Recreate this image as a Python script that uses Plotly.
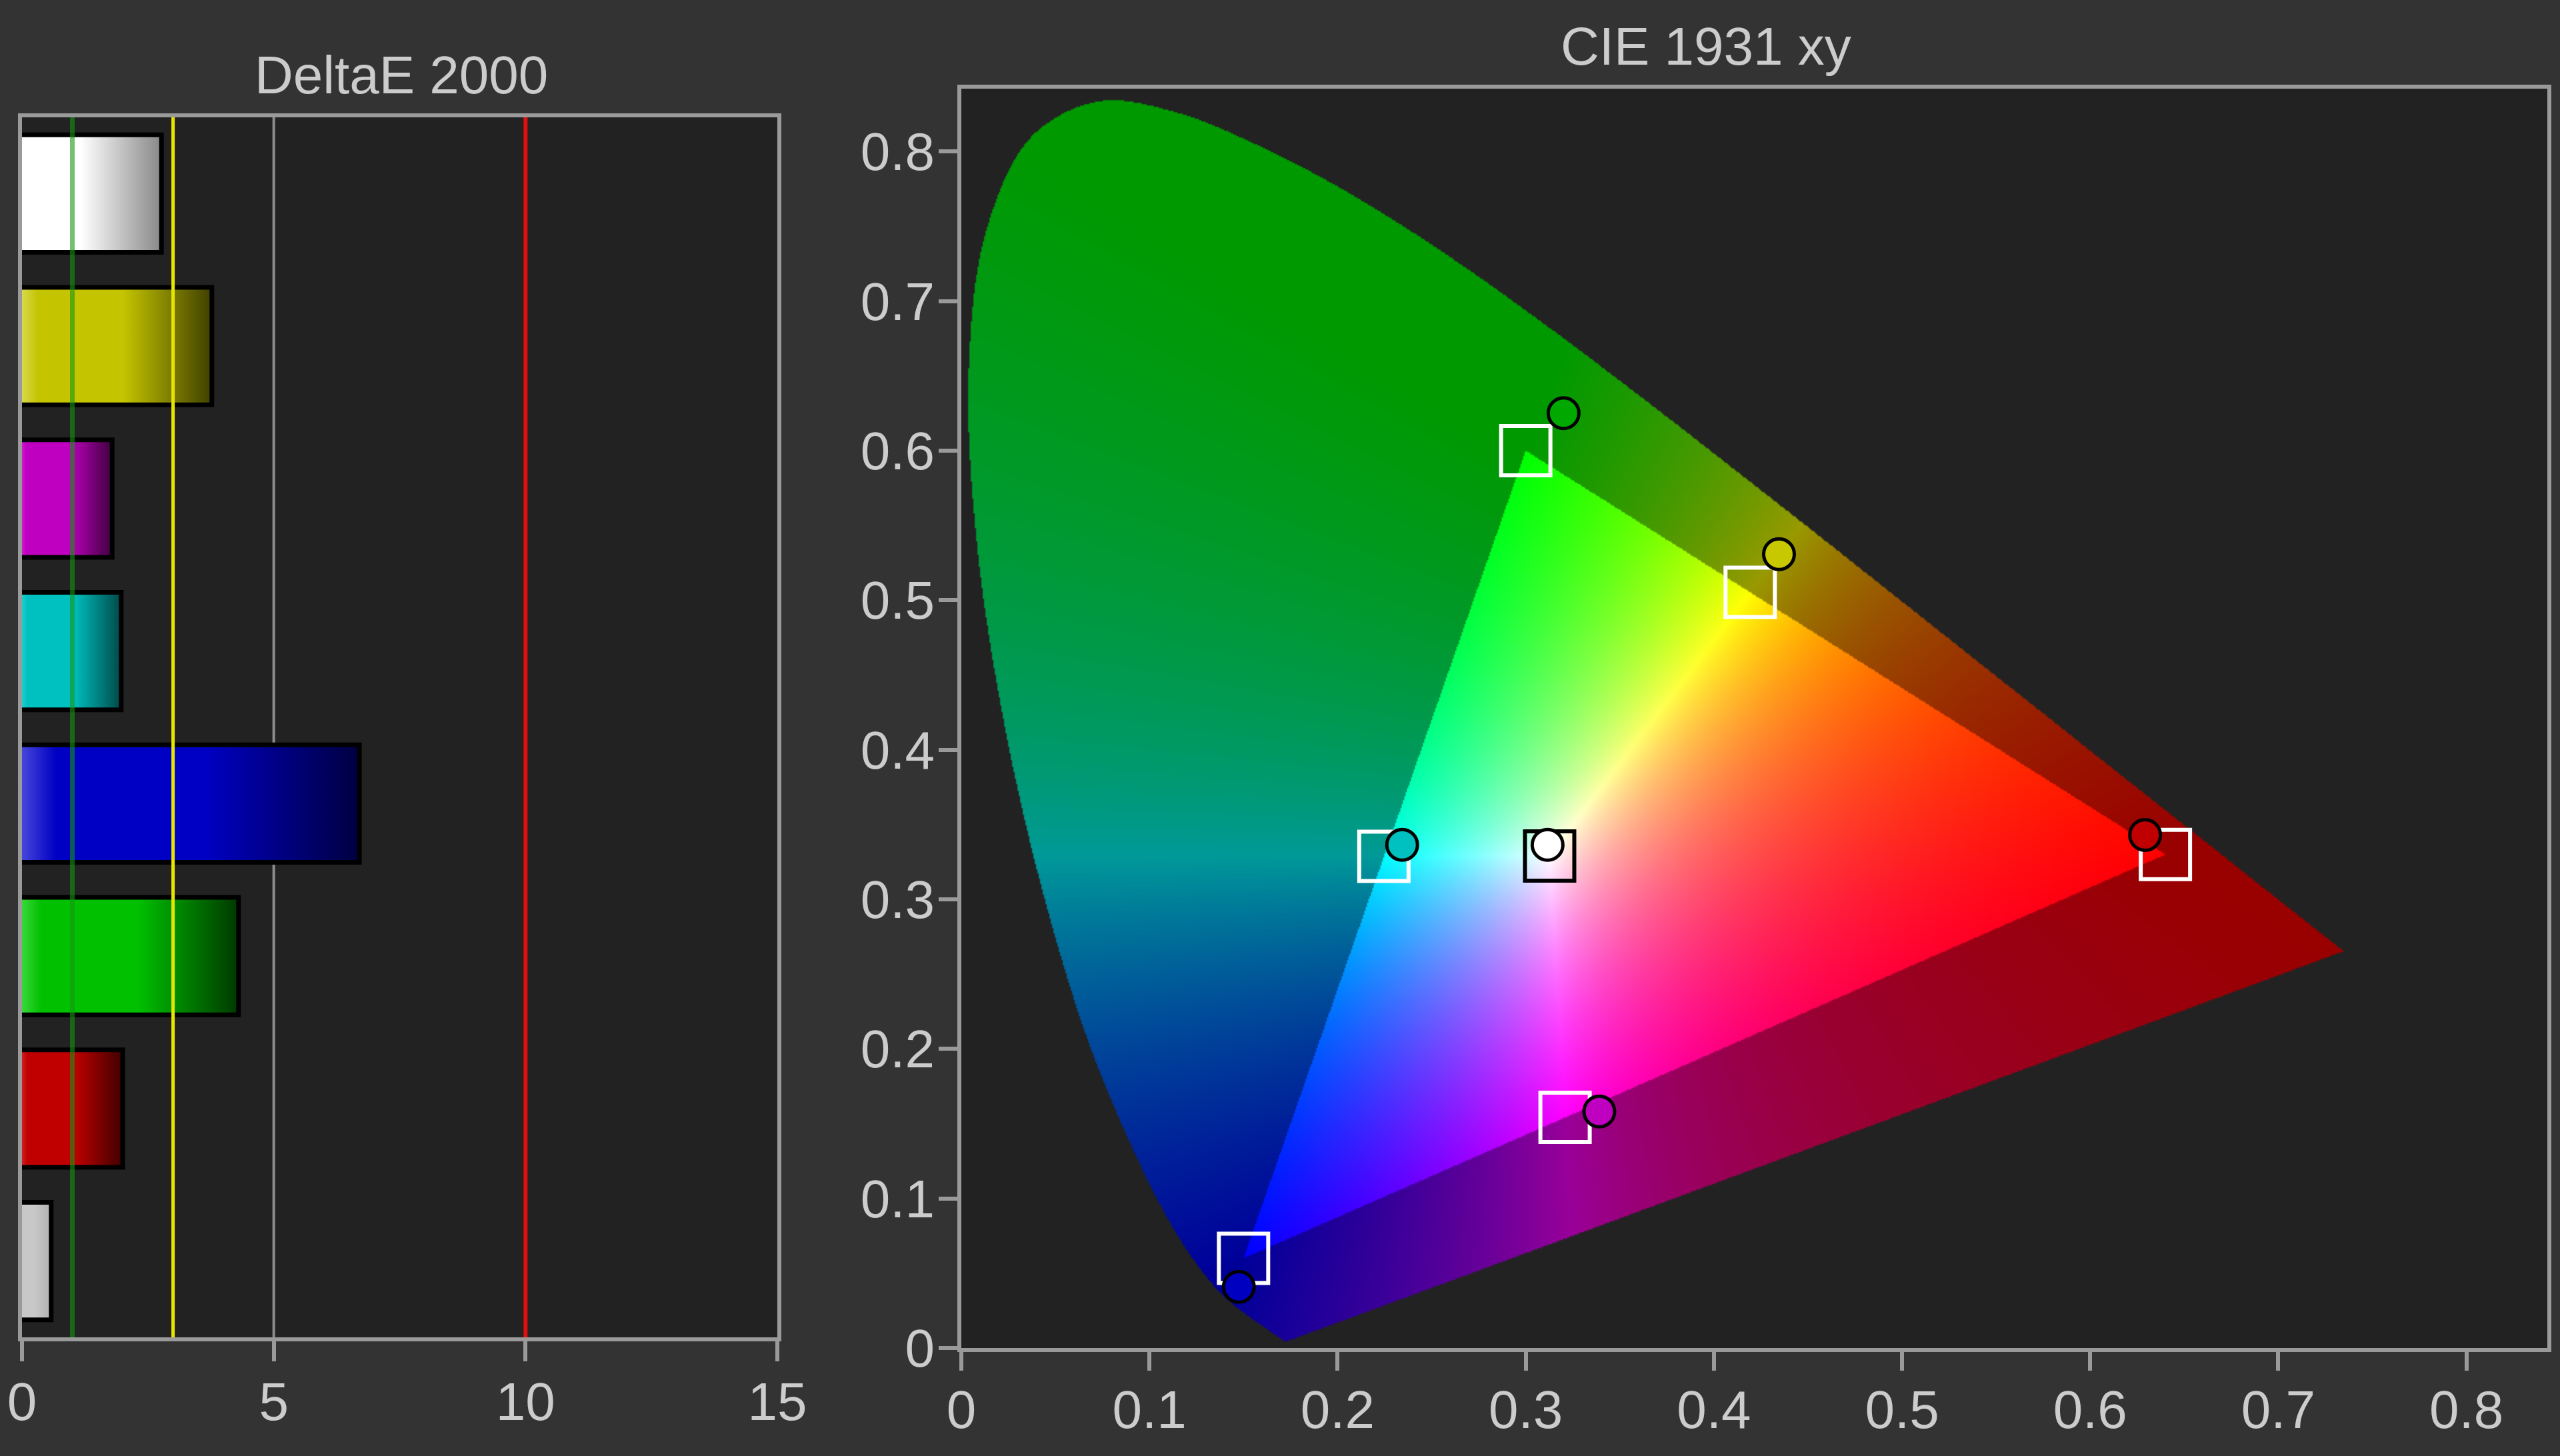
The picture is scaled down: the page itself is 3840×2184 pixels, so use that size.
import base64
import struct
import zlib

import numpy as np
import plotly.graph_objects as go

# ---------------- data ----------------
# DeltaE 2000 bar chart (top to bottom)
bar_names = ["White", "Yellow", "Magenta", "Cyan", "Blue", "Green", "Red", "Gray"]
bar_values = [2.77, 3.77, 1.79, 1.97, 6.70, 4.30, 2.00, 0.58]
bar_light = ["#ffffff", "#e0e070", "#e050e0", "#50e0e0", "#5555e0", "#50e050", "#e05050", "#d8d8d8"]
bar_base = ["#ffffff", "#c4c400", "#c000c0", "#00c0c0", "#0000c4", "#00c000", "#c00000", "#c8c8c8"]
bar_dark = ["#888888", "#404000", "#400040", "#004848", "#000040", "#003800", "#400000", "#b0b0b0"]

# DeltaE reference lines
ref_values = [1, 3, 5, 10]
ref_colors = ["rgba(20,150,20,0.6)", "#e6e600", "#8c8c8c", "#e01010"]
ref_widths = [7, 5, 4, 6]
ref_on_top = [True, True, False, True]

delta_ticks = [0, 5, 10, 15]

# CIE 1931 2-degree spectral locus (380..700 nm, 5 nm)
locus_x = [0.1741, 0.1740, 0.1738, 0.1736, 0.1733, 0.1730, 0.1726, 0.1721, 0.1714, 0.1703,
           0.1689, 0.1669, 0.1644, 0.1611, 0.1566, 0.1510, 0.1440, 0.1355, 0.1241, 0.1096,
           0.0913, 0.0687, 0.0454, 0.0235, 0.0082, 0.0039, 0.0139, 0.0389, 0.0743, 0.1142,
           0.1547, 0.1929, 0.2296, 0.2658, 0.3016, 0.3373, 0.3731, 0.4087, 0.4441, 0.4788,
           0.5125, 0.5448, 0.5752, 0.6029, 0.6270, 0.6482, 0.6658, 0.6801, 0.6915, 0.7006,
           0.7079, 0.7140, 0.7190, 0.7230, 0.7260, 0.7283, 0.7300, 0.7311, 0.7320, 0.7327,
           0.7334, 0.7340, 0.7344, 0.7346, 0.7347]
locus_y = [0.0050, 0.0050, 0.0049, 0.0049, 0.0048, 0.0048, 0.0048, 0.0048, 0.0051, 0.0058,
           0.0069, 0.0086, 0.0109, 0.0138, 0.0177, 0.0227, 0.0297, 0.0399, 0.0578, 0.0868,
           0.1327, 0.2007, 0.2950, 0.4127, 0.5384, 0.6548, 0.7502, 0.8120, 0.8338, 0.8262,
           0.8059, 0.7816, 0.7543, 0.7243, 0.6923, 0.6589, 0.6245, 0.5896, 0.5547, 0.5202,
           0.4866, 0.4544, 0.4242, 0.3965, 0.3725, 0.3514, 0.3340, 0.3197, 0.3083, 0.2993,
           0.2920, 0.2859, 0.2809, 0.2770, 0.2740, 0.2717, 0.2700, 0.2689, 0.2680, 0.2673,
           0.2666, 0.2660, 0.2656, 0.2654, 0.2653]

# sRGB gamut primaries (R, G, B)
gamut_x = [0.64, 0.30, 0.15]
gamut_y = [0.33, 0.60, 0.06]

# Targets and measurements: White, Red, Green, Blue, Cyan, Magenta, Yellow
point_names = ["White", "Red", "Green", "Blue", "Cyan", "Magenta", "Yellow"]
target_x = [0.3127, 0.6400, 0.3000, 0.1500, 0.2246, 0.3209, 0.4193]
target_y = [0.3290, 0.3300, 0.6000, 0.0600, 0.3287, 0.1542, 0.5053]
target_colors = ["#000000", "#ffffff", "#ffffff", "#ffffff", "#ffffff", "#ffffff", "#ffffff"]
meas_x = [0.3116, 0.6292, 0.3201, 0.1475, 0.2343, 0.3391, 0.4346]
meas_y = [0.3364, 0.3430, 0.6250, 0.0409, 0.3364, 0.1581, 0.5308]
meas_colors = ["#ffffff", "#c00000", "#00a800", "#0000c0", "#00c0c0", "#c000c0", "#c8c800"]

cie_ticks = [0, 0.1, 0.2, 0.3, 0.4, 0.5, 0.6, 0.7, 0.8]
cie_ticktext = ["0", "0.1", "0.2", "0.3", "0.4", "0.5", "0.6", "0.7", "0.8"]

# ---------------- style ----------------
FONT = "Liberation Sans, Arial, sans-serif"
TXT = "#cccccc"
FRAME = "#9a9a9a"
PAPER = "#333333"
PLOT = "#222222"
BAR_START = -0.15   # hides the bar outline's left edge under the frame
BAR_HALF = 0.385


# ---------------- chromaticity background (computed from the locus data) ----------------
def png_bytes(rgba):
    h, w, _ = rgba.shape
    raw = rgba.reshape(h, w * 4).astype(np.int16)
    prev = np.vstack([np.zeros((1, w * 4), np.int16), raw[:-1]])
    filt = ((raw - prev) % 256).astype(np.uint8)
    data = np.hstack([np.full((h, 1), 2, np.uint8), filt]).tobytes()

    def chunk(t, d):
        return struct.pack(">I", len(d)) + t + d + struct.pack(">I", zlib.crc32(t + d) & 0xFFFFFFFF)

    ihdr = struct.pack(">IIBBBBB", w, h, 8, 6, 0, 0, 0)
    return b"\x89PNG\r\n\x1a\n" + chunk(b"IHDR", ihdr) + chunk(b"IDAT", zlib.compress(data, 9)) + chunk(b"IEND", b"")


def smooth_curve(xs, ys, n_sub=12, alpha=0.5):
    """Centripetal Catmull-Rom through the locus points (for a smooth outline)."""
    P = np.column_stack([xs, ys]).astype(float)
    ext = np.vstack([2 * P[0] - P[1], P, 2 * P[-1] - P[-2]])
    out = []
    for i in range(1, len(ext) - 2):
        p0, p1, p2, p3 = ext[i - 1], ext[i], ext[i + 1], ext[i + 2]
        t0 = 0.0
        t1 = t0 + max(np.linalg.norm(p1 - p0) ** alpha, 1e-6)
        t2 = t1 + max(np.linalg.norm(p2 - p1) ** alpha, 1e-6)
        t3 = t2 + max(np.linalg.norm(p3 - p2) ** alpha, 1e-6)
        for t in np.linspace(t1, t2, n_sub, endpoint=False):
            a1 = (t1 - t) / (t1 - t0) * p0 + (t - t0) / (t1 - t0) * p1
            a2 = (t2 - t) / (t2 - t1) * p1 + (t - t1) / (t2 - t1) * p2
            a3 = (t3 - t) / (t3 - t2) * p2 + (t - t2) / (t3 - t2) * p3
            b1 = (t2 - t) / (t2 - t0) * a1 + (t - t0) / (t2 - t0) * a2
            b2 = (t3 - t) / (t3 - t1) * a2 + (t - t1) / (t3 - t1) * a3
            out.append((t2 - t) / (t2 - t1) * b1 + (t - t1) / (t2 - t1) * b2)
    out.append(P[-1])
    out = np.array(out)
    return out[:, 0], out[:, 1]


img_x0, img_x1 = 0.0, max(locus_x) + 0.005
img_y0, img_y1 = 0.0, max(locus_y) + 0.005
nx = int((img_x1 - img_x0) * 1411)
ny = int((img_y1 - img_y0) * 1122)
gx = img_x0 + (np.arange(nx) + 0.5) * (img_x1 - img_x0) / nx
gy = img_y1 - (np.arange(ny) + 0.5) * (img_y1 - img_y0) / ny
GX, GY = np.meshgrid(gx, gy)

lx, ly = smooth_curve(locus_x, locus_y)
inside = np.zeros(GX.shape, bool)
j = len(lx) - 1
for i in range(len(lx)):
    xi, yi, xj, yj = lx[i], ly[i], lx[j], ly[j]
    if yi != yj:
        cond = ((yi > GY) != (yj > GY)) & (GX < (xj - xi) * (GY - yi) / (yj - yi) + xi)
        inside ^= cond
    j = i

yy = np.maximum(GY, 1e-4)
Xc = GX / yy
Zc = (1 - GX - GY) / yy
R = 3.2406 * Xc - 1.5372 - 0.4986 * Zc
G = -0.9689 * Xc + 1.8758 + 0.0415 * Zc
B = 0.0557 * Xc - 0.2040 + 1.0570 * Zc
rgb = np.clip(np.stack([R, G, B], -1), 0, None)
rgb /= np.maximum(rgb.max(-1, keepdims=True), 1e-9)


def side(ax, ay, bx, by):
    return (bx - ax) * (GY - ay) - (by - ay) * (GX - ax)


d1 = side(gamut_x[0], gamut_y[0], gamut_x[1], gamut_y[1])
d2 = side(gamut_x[1], gamut_y[1], gamut_x[2], gamut_y[2])
d3 = side(gamut_x[2], gamut_y[2], gamut_x[0], gamut_y[0])
in_tri = ((d1 >= 0) & (d2 >= 0) & (d3 >= 0)) | ((d1 <= 0) & (d2 <= 0) & (d3 <= 0))
rgb *= np.where(in_tri, 1.0, 0.6)[..., None]

rgba = np.zeros((ny, nx, 4), np.uint8)
rgba[..., :3] = np.round(rgb * 255).astype(np.uint8)
rgba[..., 3] = np.where(inside, 255, 0).astype(np.uint8)
img_src = "data:image/png;base64," + base64.b64encode(png_bytes(rgba)).decode("ascii")

# ---------------- figure ----------------
fig = go.Figure()

cat_idx = list(range(len(bar_names)))

# reference lines behind bars
for v, c, w, top in zip(ref_values, ref_colors, ref_widths, ref_on_top):
    if not top:
        fig.add_trace(go.Scatter(x=[v, v], y=[-0.5, len(bar_names) - 0.5], mode="lines",
                                 line=dict(color=c, width=w), hoverinfo="skip",
                                 xaxis="x", yaxis="y"))

for i, (name, v, cl, cb, cd) in enumerate(zip(bar_names, bar_values, bar_light, bar_base, bar_dark)):
    if name == "White":
        cs = [[0, cl], [0.45, cb], [1, cd]]
    else:
        cs = [[0, cl], [0.12, cb], [0.55, cb], [1, cd]]
    yc = cat_idx[i]
    fig.add_trace(go.Scatter(
        x=[BAR_START, v, v, BAR_START, BAR_START],
        y=[yc - BAR_HALF, yc - BAR_HALF, yc + BAR_HALF, yc + BAR_HALF, yc - BAR_HALF],
        mode="lines", fill="toself",
        fillgradient=dict(type="horizontal", colorscale=cs),
        line=dict(color="black", width=7), name=name, hoverinfo="name",
        xaxis="x", yaxis="y"))

for v, c, w, top in zip(ref_values, ref_colors, ref_widths, ref_on_top):
    if top:
        fig.add_trace(go.Scatter(x=[v, v], y=[-0.5, len(bar_names) - 0.5], mode="lines",
                                 line=dict(color=c, width=w), hoverinfo="skip",
                                 xaxis="x", yaxis="y"))

# CIE targets (squares) and measurements (circles)
fig.add_trace(go.Scatter(
    x=target_x, y=target_y, mode="markers", text=point_names,
    marker=dict(symbol="square", size=74, color="rgba(0,0,0,0)",
                line=dict(color=target_colors, width=6)),
    xaxis="x2", yaxis="y2"))
fig.add_trace(go.Scatter(
    x=meas_x, y=meas_y, mode="markers", text=point_names,
    marker=dict(symbol="circle", size=46, color=meas_colors,
                line=dict(color="black", width=5)),
    xaxis="x2", yaxis="y2"))

axis_common = dict(showline=True, mirror=True, linecolor=FRAME, linewidth=6,
                   showgrid=False, zeroline=False, automargin=False,
                   tickfont=dict(family=FONT, size=80, color=TXT))

fig.update_layout(
    width=3840, height=2184,
    margin=dict(l=0, r=0, t=0, b=0, pad=0, autoexpand=False),
    paper_bgcolor=PAPER, plot_bgcolor=PLOT,
    showlegend=False,
    font=dict(family=FONT, color=TXT),
    xaxis=dict(domain=[0.00859, 0.30365], range=[0, 15], tickvals=delta_ticks,
               ticks="outside", ticklen=30, tickwidth=6, tickcolor=FRAME,
               ticklabelstandoff=-8, **axis_common),
    yaxis=dict(domain=[0.0815, 0.9194], range=[len(bar_names) - 0.5, -0.5],
               showticklabels=False, ticks="", **axis_common),
    xaxis2=dict(domain=[0.37552, 0.99505], range=[0, 0.843], tickvals=cie_ticks, ticktext=cie_ticktext,
                ticks="outside", ticklen=28, tickwidth=6, tickcolor=FRAME, anchor="y2",
                ticklabelstandoff=-10, **axis_common),
    yaxis2=dict(domain=[0.07418, 0.93910], range=[0, 0.842], tickvals=cie_ticks, ticktext=cie_ticktext,
                ticks="outside", ticklen=28, tickwidth=6, tickcolor=FRAME, anchor="x2",
                ticklabelstandoff=-10, **axis_common),
    images=[dict(source=img_src, xref="x2", yref="y2", x=img_x0, y=img_y1,
                 sizex=img_x1 - img_x0, sizey=img_y1 - img_y0,
                 xanchor="left", yanchor="top", sizing="stretch", layer="below")],
    annotations=[
        dict(text="DeltaE 2000", x=0.1568, y=0.9483, xref="paper", yref="paper", showarrow=False,
             xanchor="center", yanchor="middle", font=dict(family=FONT, size=80, color=TXT)),
        dict(text="CIE 1931 xy", x=0.6664, y=0.9684, xref="paper", yref="paper", showarrow=False,
             xanchor="center", yanchor="middle", font=dict(family=FONT, size=80, color=TXT)),
    ],
)

fig.write_html("out.html", config={"displayModeBar": False},
               post_script="document.body.style.margin='0';")
